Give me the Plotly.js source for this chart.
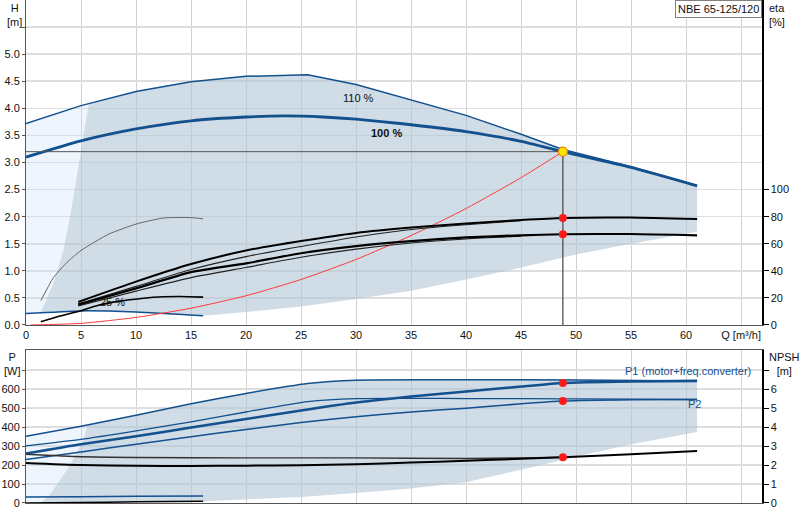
<!DOCTYPE html>
<html>
<head>
<meta charset="utf-8">
<script src="https://cdn.plot.ly/plotly-3.0.1.min.js"></script>
<style>
  html, body { margin: 0; padding: 0; background: #fff; }
  #chart { width: 800px; height: 520px; }
</style>
</head>
<body>
<div id="chart"></div>
<script>
// Osie i podziałki
const qTicks    = [0, 5, 10, 15, 20, 25, 30, 35, 40, 45, 50, 55, 60, 65];
const qTickText = ['0', '5', '10', '15', '20', '25', '30', '35', '40', '45', '50', '55', '60', 'Q [m³/h]'];
const hTicks    = [0, 0.5, 1, 1.5, 2, 2.5, 3, 3.5, 4, 4.5, 5, 5.5];
const hTickText = ['0.0', '0.5', '1.0', '1.5', '2.0', '2.5', '3.0', '3.5', '4.0', '4.5', '5.0', ''];
const etaTicks  = [0, 20, 40, 60, 80, 100];
const pTicks    = [0, 100, 200, 300, 400, 500, 600, 700];
const pTickText = ['0', '100', '200', '300', '400', '500', '600', ''];
const npshTicks = [0, 1, 2, 3, 4, 5, 6, 7];
const npshTickText = ['0', '1', '2', '3', '4', '5', '6', ''];

// Krzywe H(Q)
const q110 = [0, 5, 10, 15, 20, 25.6, 30, 35, 40, 45, 48.8, 55, 61];
const h110 = [3.72, 4.05, 4.31, 4.49, 4.59, 4.62, 4.44, 4.15, 3.87, 3.52, 3.24, 2.92, 2.57];
const q100 = [0, 5, 10, 15, 20, 23.5, 27, 30, 34, 40, 45, 48.8, 55, 61];
const h100 = [3.1, 3.4, 3.62, 3.77, 3.84, 3.86, 3.84, 3.8, 3.72, 3.57, 3.39, 3.2, 2.91, 2.57];
const qMin = [0, 5, 10, 16.1];
const hMin = [0.21, 0.26, 0.24, 0.17];
const q25  = [1.35, 3, 4.9, 6.5, 8.5, 10.5, 12.5, 14, 16.1];
const h25  = [0.06, 0.16, 0.26, 0.36, 0.44, 0.49, 0.52, 0.525, 0.515];

// Obszar pracy (granice)
const edgeQ = [1.3, 2.5, 3.4, 4.0, 4.5, 4.9, 5.3, 5.7];
const edgeH = [0.22, 0.77, 1.38, 2.0, 2.6, 3.1, 3.6, 4.07];
const lowQ  = [16.1, 20, 25, 30, 35, 40, 45, 50, 55, 61];
const lowH  = [0.17, 0.24, 0.34, 0.48, 0.63, 0.84, 1.06, 1.3, 1.5, 1.72];

// Sprawność [%]
const qEta  = [4.75, 10, 15, 20, 25, 30, 35, 40, 45, 48.8, 55, 61];
const etaA  = [17, 32, 45, 55, 62, 68, 72, 75, 77.5, 79, 79.3, 78.2];
const etaC  = [15, 27, 39, 45.5, 53, 58.3, 62, 64.7, 66.2, 67, 67.2, 66.2];
const qEtaThin = [4.75, 10, 15, 20, 25, 30, 35, 40, 45];
const etaB  = [15.5, 28.5, 41, 50.5, 58, 65, 70.5, 74, 77];
const etaD  = [14, 25, 35, 42.5, 50, 56, 60.5, 63.5, 65.5];
const qEta25 = [1.35, 2.5, 3.7, 5, 7.5, 10, 12.5, 15, 16.1];
const eta25  = [18, 35, 46, 55, 67, 74.5, 79, 79.3, 78.4];

// Charakterystyka instalacji i punkt pracy
const qSys = [0.4, 5, 10, 15, 20, 25, 30, 35, 40, 45, 48.8];
const hSys = [0, 0.03, 0.14, 0.31, 0.54, 0.84, 1.21, 1.65, 2.15, 2.72, 3.2];
const qDuty = 48.8;
const hDuty = 3.2;
const etaDuty = [79, 67];
const pDuty = [633, 538];
const npshDuty = 2.41;

// Moc P [W]
const qP = [0, 5, 10, 15, 20, 25, 30, 35, 40, 45, 48.8, 55, 61];
const p1 = [261, 310, 352, 398, 443, 488, 530, 562, 588, 614, 633, 641, 644];
const p2 = [229, 269, 310, 349, 388, 424, 455, 480, 500, 523, 538, 545, 546];
const qP110 = [0, 5, 10, 15, 20, 25.6, 30, 40, 50, 61];
const p1Max = [352, 405, 463, 524, 578, 630, 648, 650, 649, 644];
const p2Max = [301, 335, 380, 428, 480, 535, 551, 551, 549, 546];
const qPSmall = [0, 5, 10, 16.1];
const p1Small = [32, 33, 35, 37];
const p2Small = [0, 3, 6, 9];
const pEdgeQ = [1.3, 2.0, 2.9, 3.7, 4.6, 5.2, 5.6];
const pEdge  = [0, 32, 104, 173, 262, 331, 411];
const pLowQ  = [1.3, 16.1, 25, 30, 35, 37.6, 40, 45, 50, 55, 61];
const pLow   = [0, 9, 32, 53, 76, 93, 110, 175, 244, 310, 375];

// NPSH [m]
const qN1 = [0, 5, 10, 20, 30, 40, 45, 48.8];
const n1  = [2.57, 2.44, 2.40, 2.38, 2.38, 2.35, 2.38, 2.41];
const qN2 = [0, 5, 10, 15, 20, 25, 30, 35, 40, 45, 48.8, 55, 61];
const n2  = [2.11, 2.0, 1.96, 1.95, 1.97, 1.99, 2.05, 2.13, 2.23, 2.33, 2.41, 2.57, 2.74];

const BLUE = '#12508e';
const DARK = 'rgba(177,197,213,0.6)';
const LIGHT = 'rgba(198,222,245,0.3)';
const FONT = 'Liberation Sans, Arial, sans-serif';

const rev = a => a.slice().reverse();
const line = (x, y, color, width, extra = {}) => Object.assign({
  x, y, type: 'scatter', mode: 'lines', line: { color, width, shape: 'spline', smoothing: 0.6 },
  hoverinfo: 'skip'
}, extra);
const area = (x, y, color, xa, ya) => ({
  x, y, xaxis: xa, yaxis: ya, type: 'scatter', mode: 'none', fill: 'toself',
  fillcolor: color, hoverinfo: 'skip'
});

// Wielokąty obszarów zbudowane z granic
const lastEdgeQ = edgeQ[edgeQ.length - 1];
const top110 = q110.map((q, i) => [q, h110[i]]).filter(p => p[0] > lastEdgeQ);
const darkTopX = [...edgeQ, ...top110.map(p => p[0]), ...rev(lowQ), ...rev(qMin.slice(1, -1))];
const darkTopY = [...edgeH, ...top110.map(p => p[1]), ...rev(lowH), ...rev(hMin.slice(1, -1))];
const lightTopX = [qMin[0], q110[0], q110[1], ...rev(edgeQ)];
const lightTopY = [hMin[0], h110[0], h110[1], ...rev(edgeH)];

const lastPEdgeQ = pEdgeQ[pEdgeQ.length - 1];
const topP = qP110.map((q, i) => [q, p1Max[i]]).filter(p => p[0] > lastPEdgeQ);
const darkBotX = [...pEdgeQ, ...topP.map(p => p[0]), ...rev(pLowQ)];
const darkBotY = [...pEdge, ...topP.map(p => p[1]), ...rev(pLow)];
const lightBotX = [0, qP110[0], qP110[1], ...rev(pEdgeQ)];
const lightBotY = [0, p1Max[0], p1Max[1], ...rev(pEdge)];

const traces = [
  area(lightTopX, lightTopY, LIGHT, 'x', 'y'),
  area(darkTopX, darkTopY, DARK, 'x', 'y'),
  area(lightBotX, lightBotY, LIGHT, 'x2', 'y3'),
  area(darkBotX, darkBotY, DARK, 'x2', 'y3'),

  // H(Q)
  line(q110, h110, BLUE, 1.5, { line: { color: BLUE, width: 1.5 } }),
  line(q100, h100, BLUE, 2.8),
  line(qMin, hMin, BLUE, 1.5),
  line(q25, h25, '#000', 1.6),
  line(qSys, hSys, '#ff3b3b', 1),
  line([0, qDuty], [hDuty, hDuty], '#555', 1, { line: { color: '#555', width: 1 } }),
  line([qDuty, qDuty], [0, hDuty], '#444', 1.2, { line: { color: '#444', width: 1.2 } }),

  // sprawność
  line(qEta25, eta25, '#666', 1, { yaxis: 'y2' }),
  line(qEtaThin, etaB, '#222', 1.1, { yaxis: 'y2' }),
  line(qEtaThin, etaD, '#222', 1.1, { yaxis: 'y2' }),
  line(qEta, etaA, '#000', 2, { yaxis: 'y2' }),
  line(qEta, etaC, '#000', 2.2, { yaxis: 'y2' }),

  // moc i NPSH
  line(qP110, p1Max, BLUE, 1.5, { xaxis: 'x2', yaxis: 'y3' }),
  line(qP110, p2Max, BLUE, 1.3, { xaxis: 'x2', yaxis: 'y3' }),
  line(qP, p1, BLUE, 2.6, { xaxis: 'x2', yaxis: 'y3' }),
  line(qP, p2, BLUE, 1.5, { xaxis: 'x2', yaxis: 'y3' }),
  line(qPSmall, p1Small, BLUE, 1.5, { xaxis: 'x2', yaxis: 'y3' }),
  line(qPSmall, p2Small, '#000', 1.5, { xaxis: 'x2', yaxis: 'y3' }),
  line(qN1, n1, '#333', 1.4, { xaxis: 'x2', yaxis: 'y4' }),
  line(qN2, n2, '#000', 2, { xaxis: 'x2', yaxis: 'y4' }),

  // punkty pracy
  { x: [qDuty, qDuty], y: etaDuty, xaxis: 'x', yaxis: 'y2', type: 'scatter', mode: 'markers',
    marker: { color: '#ff1a1a', size: 8 }, hoverinfo: 'skip' },
  { x: [qDuty, qDuty], y: pDuty, xaxis: 'x2', yaxis: 'y3', type: 'scatter', mode: 'markers',
    marker: { color: '#ff1a1a', size: 8 }, hoverinfo: 'skip' },
  { x: [qDuty], y: [npshDuty], xaxis: 'x2', yaxis: 'y4', type: 'scatter', mode: 'markers',
    marker: { color: '#ff1a1a', size: 8 }, hoverinfo: 'skip' },
  { x: [qDuty], y: [hDuty], xaxis: 'x', yaxis: 'y', type: 'scatter', mode: 'markers',
    marker: { color: '#ffe600', size: 9, line: { color: '#f08000', width: 1.2 } }, hoverinfo: 'skip' },
];

const tickFont = { family: FONT, size: 11, color: '#111' };
const xBase = {
  range: [0, 66.9], tickvals: qTicks, ticktext: qTickText, tickfont: tickFont,
  showgrid: true, gridcolor: '#d2d2d2', gridwidth: 1, zeroline: false,
  showline: true, linecolor: '#555', linewidth: 1, mirror: true, ticks: ''
};
const leftY = (extra) => Object.assign({
  tickfont: tickFont, showgrid: true, gridcolor: '#dedede', gridwidth: 1.6, zeroline: false,
  showline: true, linecolor: '#555', ticks: 'outside', ticklen: 3, tickcolor: '#555'
}, extra);
const rightY = (extra) => Object.assign({
  tickfont: tickFont, showgrid: false, zeroline: false, side: 'right',
  showline: true, linecolor: '#000', linewidth: 1.5, ticks: 'outside', ticklen: 5, tickcolor: '#000'
}, extra);

const ann = (text, x, y, extra = {}) => Object.assign({
  text, x, y, xref: 'x', yref: 'y', showarrow: false, xanchor: 'center',
  font: { family: FONT, size: 11, color: '#111' }
}, extra);

const layout = {
  width: 800, height: 520,
  margin: { l: 26, r: 38, t: 0, b: 17 },
  paper_bgcolor: '#fff', plot_bgcolor: '#fff',
  showlegend: false, hovermode: false,
  font: { family: FONT, size: 11, color: '#111' },
  xaxis: Object.assign({ anchor: 'y', domain: [0, 1] }, xBase),
  xaxis2: Object.assign({ anchor: 'y3', domain: [0, 1], matches: 'x', showticklabels: false }, xBase),
  yaxis: leftY({ domain: [0.3539, 1], range: [0, 6], tickvals: hTicks, ticktext: hTickText }),
  yaxis2: rightY({ overlaying: 'y', anchor: 'x', range: [0, 240], tickvals: etaTicks }),
  yaxis3: leftY({ domain: [0, 0.3042], anchor: 'x2', range: [0, 807], tickvals: pTicks, ticktext: pTickText }),
  yaxis4: rightY({ overlaying: 'y3', anchor: 'x2', range: [0, 8.07], tickvals: npshTicks, ticktext: npshTickText }),
  annotations: [
    ann('110 %', 30.2, 4.2),
    ann('<b>100 %</b>', 32.8, 3.54),
    ann('25 %', 7.9, 0.42),
    ann('P1 (motor+freq.converter)', 66.1, 695, { xref: 'x2', yref: 'y3', xanchor: 'right', font: { family: FONT, size: 11, color: BLUE } }),
    ann('P2', 60.8, 521, { xref: 'x2', yref: 'y3', font: { family: FONT, size: 11, color: BLUE } }),
    ann('NBE 65-125/120', 1, 1, { xref: 'paper', yref: 'paper', xanchor: 'right', yanchor: 'top',
      bordercolor: '#808080', borderwidth: 1, borderpad: 2, bgcolor: '#fff' }),
    ann('H<br>[m]', -0.0163, 1.0, { xref: 'paper', yref: 'paper', yanchor: 'top' }),
    ann('eta<br>[%]', 1.0068, 1.0, { xref: 'paper', yref: 'paper', xanchor: 'left', yanchor: 'top', align: 'left' }),
    ann('P<br>[W]', -0.0177, 0.306, { xref: 'paper', yref: 'paper', yanchor: 'top' }),
    ann('NPSH<br>[m]', 1.0068, 0.306, { xref: 'paper', yref: 'paper', xanchor: 'left', yanchor: 'top', align: 'center' }),
  ],
};

Plotly.newPlot('chart', traces, layout, { displayModeBar: false, staticPlot: true });
</script>
</body>
</html>
